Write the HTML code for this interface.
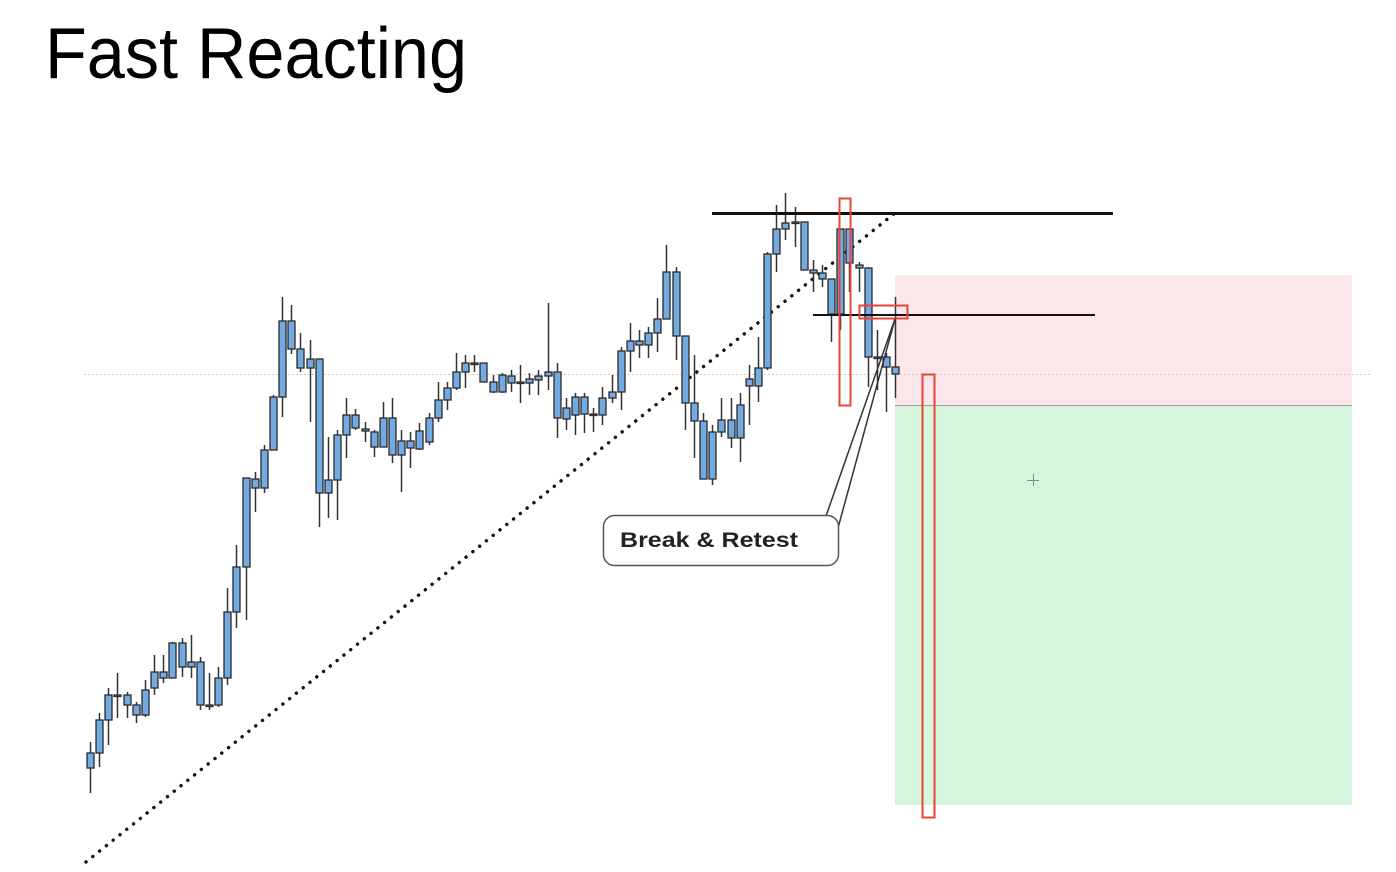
<!DOCTYPE html>
<html><head><meta charset="utf-8"><style>
html,body{margin:0;padding:0;background:#fff;width:1396px;height:872px;overflow:hidden}
svg{display:block}
</style></head><body>
<svg id="chart" width="1396" height="872" viewBox="0 0 1396 872" xmlns="http://www.w3.org/2000/svg">
<text x="45" y="78" font-family="Liberation Sans, sans-serif" font-size="72" textLength="422" lengthAdjust="spacingAndGlyphs" fill="#000">Fast Reacting</text>
<rect x="895" y="275" width="457" height="130" fill="#fbe6ea"/>
<rect x="895" y="405" width="457" height="400" fill="#d5f5dc"/>
<line x1="895" y1="405.5" x2="1352" y2="405.5" stroke="#999" stroke-width="1"/>
<line x1="84" y1="374.5" x2="1372" y2="374.5" stroke="#ccc" stroke-width="1" stroke-dasharray="2,2"/>
<line x1="86" y1="862" x2="895" y2="213" stroke="#111" stroke-width="3.4" stroke-dasharray="0.1,8.6" stroke-linecap="round"/>
<g id="candles"></g>
<line x1="712" y1="213.5" x2="1113" y2="213.5" stroke="#111" stroke-width="3"/>
<line x1="813" y1="315" x2="1095" y2="315" stroke="#111" stroke-width="2"/>
<rect x="839.5" y="198.5" width="11" height="207" fill="none" stroke="#e8443a" stroke-width="2"/>
<rect x="859.5" y="305.5" width="48" height="13" fill="none" stroke="#e8443a" stroke-width="2"/>
<rect x="922.5" y="374.5" width="12" height="443" fill="none" stroke="#e8443a" stroke-width="2"/>
<line x1="826" y1="516" x2="895" y2="319" stroke="#333" stroke-width="1.5"/>
<line x1="838" y1="528" x2="895" y2="319" stroke="#333" stroke-width="1.5"/>
<rect x="603.5" y="515.5" width="235" height="50" rx="11" fill="#fff" stroke="#555" stroke-width="1.5"/>
<text x="620" y="547" font-family="Liberation Sans, sans-serif" font-weight="bold" font-size="21" textLength="178" lengthAdjust="spacingAndGlyphs" fill="#222">Break &amp; Retest</text>
<g stroke="#888" stroke-width="1"><line x1="1027" y1="480.5" x2="1039" y2="480.5"/><line x1="1033.5" y1="474" x2="1033.5" y2="486"/></g>
</svg>
<script>
const opens=[132,147,180,205,205,195,185,212,222,222,257,238,238,195,195,222,288,333,412,412,450,503,579,551,532,541,407,420,465,485,471,468,453,482,445,452,451,458,482,500,512,528,537,537,518,508,517,518,517,520,524,528,481,485,503,486,485,502,508,549,555,555,567,581,628,564,497,479,421,468,480,462,514,514,532,646,671,678,678,630,627,621,586,671,635,632,543,543,533];
const highs=[158,187,212,227,208,198,220,245,245,258,262,265,243,227,233,312,355,422,428,455,505,603,595,567,560,541,463,470,502,491,478,470,498,502,470,468,477,487,518,518,547,545,545,537,525,527,530,535,527,530,597,537,502,507,507,492,513,525,553,577,570,573,602,655,633,564,545,487,475,502,502,507,535,563,648,695,707,693,678,640,635,621,671,671,638,633,570,547,603];
const lows=[107,133,155,182,182,177,183,205,217,222,223,222,190,190,193,215,272,280,388,407,450,483,546,528,478,373,382,380,442,470,458,443,453,437,408,432,450,455,478,490,510,512,528,518,507,507,508,497,505,505,510,462,470,465,467,468,475,497,490,528,542,542,548,581,540,470,442,421,415,463,452,438,475,498,530,628,660,653,630,608,613,558,570,608,608,513,510,488,502];
const closes=[147,180,205,205,195,185,210,228,228,257,233,233,195,195,222,288,333,422,421,450,503,579,551,532,541,407,420,465,485,472,469,453,482,445,459,459,469,482,500,512,528,537,537,518,508,525,524,518,521,524,528,482,492,503,486,486,502,508,549,559,559,567,581,628,564,497,479,421,468,480,462,495,521,532,646,671,677,678,630,627,621,586,671,637,632,543,543,533,526];
const x0=90, step=9.15;
function xScale(i){return x0+i*step;}
function yScale(p){return 900-p;}
const NS='http://www.w3.org/2000/svg';
const g=document.getElementById('candles');
for(let i=0;i<opens.length;i++){
  const x=Math.round(xScale(i));
  const w=document.createElementNS(NS,'line');
  
  
  w.setAttribute('x1',x+0.5);w.setAttribute('x2',x+0.5);
  w.setAttribute('y1',yScale(highs[i]));w.setAttribute('y2',yScale(lows[i]));
  w.setAttribute('stroke','#333');w.setAttribute('stroke-width','1.5');
  g.appendChild(w);
  const top=yScale(Math.max(opens[i],closes[i])), bot=yScale(Math.min(opens[i],closes[i]));
  const r=document.createElementNS(NS,'rect');
  
  
  r.setAttribute('x',x-3);r.setAttribute('width',7);
  r.setAttribute('y',top);r.setAttribute('height',Math.max(bot-top,1.5));
  r.setAttribute('fill','#74aae2');r.setAttribute('stroke','#2b2b2b');r.setAttribute('stroke-width','1.3');
  g.appendChild(r);
}
</script>
</body></html>
